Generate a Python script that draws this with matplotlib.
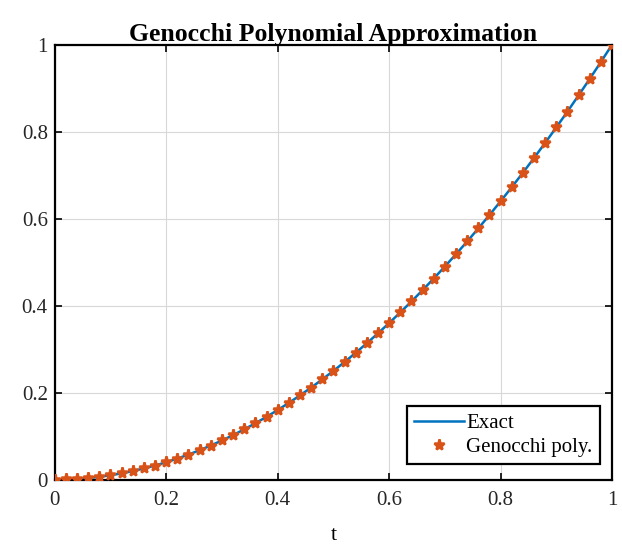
import matplotlib.pyplot as plt

# sample points (step 0.02)
t = [0.00, 0.02, 0.04, 0.06, 0.08, 0.10, 0.12, 0.14, 0.16, 0.18,
     0.20, 0.22, 0.24, 0.26, 0.28, 0.30, 0.32, 0.34, 0.36, 0.38,
     0.40, 0.42, 0.44, 0.46, 0.48, 0.50, 0.52, 0.54, 0.56, 0.58,
     0.60, 0.62, 0.64, 0.66, 0.68, 0.70, 0.72, 0.74, 0.76, 0.78,
     0.80, 0.82, 0.84, 0.86, 0.88, 0.90, 0.92, 0.94, 0.96, 0.98, 1.00]
exact = [0.0000, 0.0004, 0.0016, 0.0036, 0.0064, 0.0100, 0.0144, 0.0196, 0.0256, 0.0324,
         0.0400, 0.0484, 0.0576, 0.0676, 0.0784, 0.0900, 0.1024, 0.1156, 0.1296, 0.1444,
         0.1600, 0.1764, 0.1936, 0.2116, 0.2304, 0.2500, 0.2704, 0.2916, 0.3136, 0.3364,
         0.3600, 0.3844, 0.4096, 0.4356, 0.4624, 0.4900, 0.5184, 0.5476, 0.5776, 0.6084,
         0.6400, 0.6724, 0.7056, 0.7396, 0.7744, 0.8100, 0.8464, 0.8836, 0.9216, 0.9604, 1.0000]
genocchi = list(exact)

xticks = [0, 0.2, 0.4, 0.6, 0.8, 1]
xtick_labels = ['0', '0.2', '0.4', '0.6', '0.8', '1']
yticks = [0, 0.2, 0.4, 0.6, 0.8, 1]
ytick_labels = ['0', '0.2', '0.4', '0.6', '0.8', '1']

plt.rcParams['font.family'] = ['Liberation Serif', 'DejaVu Serif']

fig = plt.figure(figsize=(6.22, 5.59), dpi=100)
ax = fig.add_axes([0.088, 0.142, 0.896, 0.778])

ax.plot(t, exact, color='#0072BD', linewidth=1.8, label='Exact', zorder=2)
ax.plot(t, genocchi, linestyle='none', marker='*', markersize=8, markeredgewidth=1.8,
        color='#D95319', label='Genocchi poly.', zorder=3)

ax.set_xlim(0, 1)
ax.set_ylim(0, 1)
ax.set_xticks(xticks)
ax.set_xticklabels(xtick_labels)
ax.set_yticks(yticks)
ax.set_yticklabels(ytick_labels)
ax.tick_params(direction='in', top=True, right=True, labelsize=15, length=5, width=1.2,
               pad=5, labelcolor='#262626')
ax.tick_params(axis='x', pad=8)
for s in ax.spines.values():
    s.set_linewidth(1.6)
ax.grid(True, color='#d8d8d8', linewidth=0.8)
ax.set_axisbelow(True)

ax.set_title('Genocchi Polynomial Approximation', fontweight='bold', fontsize=18.5, pad=3)
ax.set_xlabel('t', fontsize=16, labelpad=12)

leg = ax.legend(loc='lower right', prop={'size': 15},
                fancybox=False, framealpha=1, edgecolor='black', borderpad=0.35,
                handlelength=2.4, handletextpad=0.1, labelspacing=0.2,
                borderaxespad=0, bbox_to_anchor=(0.978, 0.035))
leg.get_frame().set_linewidth(1.6)

plt.savefig('out.png', dpi=100)
